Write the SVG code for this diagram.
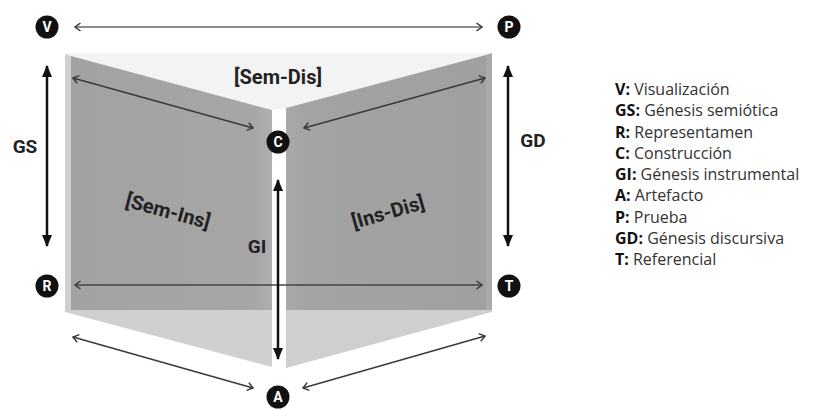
<svg xmlns="http://www.w3.org/2000/svg" width="821" height="410" viewBox="0 0 821 410">
<style>
.node circle{fill:#111}
.node text{font-family:Roboto,"Liberation Sans",sans-serif;font-weight:700;font-size:14px;fill:#fff;text-anchor:middle}
.thin{fill:none;stroke:#3a3a3a;stroke-width:1.5;marker-start:url(#chev);marker-end:url(#chev)}
.thick{fill:none;stroke:#111;stroke-width:2.5;marker-start:url(#tri);marker-end:url(#tri)}
.lbl{font-family:Roboto,"Liberation Sans",sans-serif;font-weight:700;font-size:19px;fill:#222}
.big{font-size:20px}
.leg{font-family:"Open Sans","Noto Sans",sans-serif;font-size:16px;fill:#333}
.leg tspan.b{font-weight:700;fill:#111}
</style>
<defs>
<marker id="chev" viewBox="0 0 10 10" refX="9" refY="5" markerWidth="10" markerHeight="10" markerUnits="userSpaceOnUse" orient="auto-start-reverse">
<path d="M3.5,1 L9,5 L3.5,9" fill="none" stroke="#3a3a3a" stroke-width="1.5"/>
</marker>
<marker id="tri" viewBox="0 0 12 12" refX="11" refY="6" markerWidth="12" markerHeight="12" markerUnits="userSpaceOnUse" orient="auto-start-reverse">
<path d="M0,1 L12,6 L0,11 Z" fill="#111"/>
</marker>
<linearGradient id="gl" x1="0" y1="0" x2="1" y2="0">
<stop offset="0" stop-color="#a2a2a2"/><stop offset="0.9" stop-color="#a6a6a6"/><stop offset="1" stop-color="#afafaf"/>
</linearGradient>
<linearGradient id="gr" x1="0" y1="0" x2="1" y2="0">
<stop offset="0" stop-color="#aaaaaa"/><stop offset="0.1" stop-color="#a3a3a3"/><stop offset="1" stop-color="#a0a0a0"/>
</linearGradient>
</defs>
<g id="shapes">
<polygon points="65,53 492,53 492,54 286,108 272,110 67,55" fill="#f3f3f3"/>
<polygon points="65,54 71,56 71,311 65,312" fill="#cfcfcf"/>
<polygon points="71,56 272,110 272,310 71,310" fill="url(#gl)"/>
<polygon points="65,310 272,310 272,367 65,312" fill="#d0d0d0"/>
<polygon points="286,108 486,55 486,310 286,310" fill="url(#gr)"/>
<polygon points="486,55 492,53 492,312 486,312" fill="#aaaaaa"/>
<polygon points="286,310 492,310 492,312 286,368" fill="#cfcfcf"/>
</g>
<g id="connectors">
<line x1="75" y1="27" x2="482" y2="27" class="thin" style="stroke:#666"/>
<line x1="73" y1="78" x2="253" y2="128" class="thin"/>
<line x1="304" y1="128" x2="485" y2="78" class="thin"/>
<line x1="75" y1="285" x2="482" y2="285" class="thin" style="stroke:#444"/>
<line x1="73" y1="337" x2="253" y2="388" class="thin"/>
<line x1="303" y1="388" x2="485" y2="336" class="thin"/>
<line x1="47" y1="66" x2="47" y2="246" class="thick"/>
<line x1="508" y1="66" x2="508" y2="246" class="thick"/>
<line x1="278" y1="180" x2="278" y2="359" class="thick"/>
</g>
<g id="labels">
<text class="lbl" x="25" y="153" text-anchor="middle">GS</text>
<text class="lbl" x="533" y="147" text-anchor="middle">GD</text>
<text class="lbl" x="257" y="253" text-anchor="middle">GI</text>
<text class="lbl big" x="278" y="84" text-anchor="middle">[Sem-Dis]</text>
<text class="lbl big" x="168" y="218" text-anchor="middle" transform="rotate(15 168 211)">[Sem-Ins]</text>
<text class="lbl big" x="388" y="219" text-anchor="middle" transform="rotate(-16 388 212)">[Ins-Dis]</text>
</g>
<g id="node-V" class="node"><circle cx="47" cy="27" r="11.5"/><text x="47" y="32">V</text></g>
<g id="node-P" class="node"><circle cx="509" cy="27" r="11.5"/><text x="509" y="32">P</text></g>
<g id="node-C" class="node"><circle cx="278" cy="142" r="11.5"/><text x="278" y="147">C</text></g>
<g id="node-R" class="node"><circle cx="47" cy="286" r="11.5"/><text x="47" y="291">R</text></g>
<g id="node-T" class="node"><circle cx="509" cy="286" r="11.5"/><text x="509" y="291">T</text></g>
<g id="node-A" class="node"><circle cx="278" cy="397" r="11.5"/><text x="278" y="402">A</text></g>
<g id="legend">
<text class="leg" x="615" y="95"><tspan class="b">V:</tspan> Visualización</text>
<text class="leg" x="615" y="116.3"><tspan class="b">GS:</tspan> Génesis semiótica</text>
<text class="leg" x="615" y="137.5"><tspan class="b">R:</tspan> Representamen</text>
<text class="leg" x="615" y="158.8"><tspan class="b">C:</tspan> Construcción</text>
<text class="leg" x="615" y="180"><tspan class="b">GI:</tspan> Génesis instrumental</text>
<text class="leg" x="615" y="201.3"><tspan class="b">A:</tspan> Artefacto</text>
<text class="leg" x="615" y="222.5"><tspan class="b">P:</tspan> Prueba</text>
<text class="leg" x="615" y="243.8"><tspan class="b">GD:</tspan> Génesis discursiva</text>
<text class="leg" x="615" y="265"><tspan class="b">T:</tspan> Referencial</text>
</g>
</svg>
